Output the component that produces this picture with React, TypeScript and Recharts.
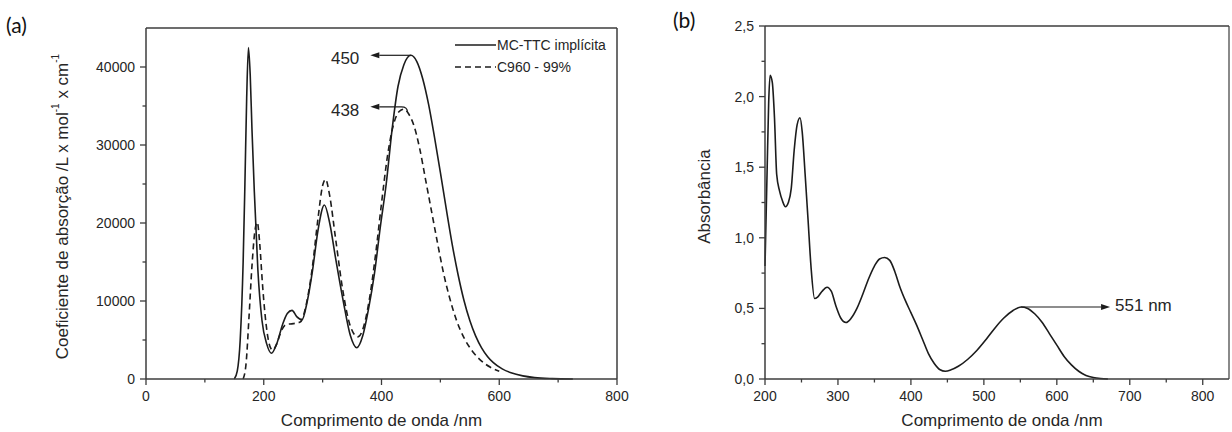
import React from 'react';
import { LineChart, Line, XAxis, YAxis, ReferenceLine, Legend } from 'recharts';

// (a) calculated spectra
const mcNm = [150, 155, 160, 165, 168, 171, 174, 177, 180, 184, 190, 197, 205, 213, 222, 232, 240, 248, 256, 265, 274, 283, 292, 303, 312, 322, 335, 347, 358, 368, 378, 388, 398, 408, 418, 428, 438, 450, 460, 470, 480, 490, 500, 510, 520, 530, 540, 550, 560, 570, 580, 590, 605, 620, 640, 660, 690, 725];
const mcEps = [0, 1000, 5000, 15000, 25000, 36000, 42500, 39000, 32000, 24000, 14000, 7500, 4500, 3300, 4500, 7000, 8400, 8800, 8000, 7600, 10000, 14000, 19000, 22300, 20000, 15500, 10000, 5600, 4000, 5500, 9000, 13500, 19500, 25000, 32000, 37500, 40300, 41500, 40700, 38500, 35200, 31000, 26500, 21800, 17300, 13400, 10100, 7500, 5500, 4000, 2900, 2100, 1300, 800, 400, 180, 50, 0];

const c960Nm = [165, 170, 175, 180, 185, 189, 193, 198, 204, 210, 215, 222, 230, 238, 250, 262, 272, 282, 292, 300, 305, 312, 322, 334, 347, 360, 370, 380, 390, 400, 410, 420, 430, 438, 446, 455, 465, 475, 485, 495, 505, 515, 528, 540, 555, 570, 585, 600];
const c960Eps = [0, 2000, 8000, 14500, 19000, 20100, 17500, 12000, 7000, 4300, 3700, 4500, 6200, 7000, 7100, 7300, 9500, 14000, 20500, 24800, 25600, 23500, 18000, 11500, 6800, 5400, 6800, 10500, 16000, 22500, 28500, 32500, 34300, 34600, 34000, 32500, 29500, 25500, 21500, 17500, 13700, 10600, 7400, 5300, 3500, 2300, 1500, 1000];

// (b) measured spectrum
const absNm = [200, 203, 205, 207, 210, 213, 216, 220, 224, 228, 232, 236, 240, 244, 248, 251, 255, 259, 263, 268, 272, 278, 285, 291, 297, 304, 311, 318, 326, 334, 342, 350, 357, 364, 371, 378, 385, 392, 400, 408, 416, 424, 432, 440, 447, 455, 465, 478, 490, 503, 515, 527, 540, 551, 560, 570, 580, 590, 600, 610, 620, 630, 640, 650, 660, 670];
const absVal = [0.8, 1.5, 1.95, 2.15, 2.1, 1.85, 1.45, 1.33, 1.26, 1.22, 1.25, 1.35, 1.62, 1.8, 1.85, 1.75, 1.45, 1.13, 0.8, 0.57, 0.58, 0.62, 0.65, 0.62, 0.52, 0.43, 0.4, 0.43, 0.5, 0.6, 0.71, 0.8, 0.85, 0.86, 0.84, 0.76, 0.65, 0.56, 0.47, 0.38, 0.28, 0.18, 0.11, 0.065, 0.055, 0.065, 0.09, 0.14, 0.2, 0.28, 0.36, 0.43, 0.485, 0.51, 0.5, 0.46, 0.4, 0.32, 0.24, 0.16, 0.1, 0.055, 0.025, 0.01, 0.003, 0];

const xTicksA = [0, 100, 200, 300, 400, 500, 600, 700, 800];
const yTicksA = [0, 5000, 10000, 15000, 20000, 25000, 30000, 35000, 40000];
const xTicksB = [200, 250, 300, 350, 400, 450, 500, 550, 600, 650, 700, 750, 800];
const yTicksB = [0, 0.25, 0.5, 0.75, 1, 1.25, 1.5, 1.75, 2, 2.25, 2.5];

const peaksA = [
  { text: '450', fromNm: 450, toNm: 381, value: 41500, bend: false },
  { text: '438', fromNm: 444, toNm: 381, value: 34900, bend: true },
];
const peaksB = [{ text: '551 nm', fromNm: 551, toNm: 673, value: 0.51, bend: false }];

const mcData = mcNm.map((nm, i) => ({ nm, v: mcEps[i] }));
const c960Data = c960Nm.map((nm, i) => ({ nm, v: c960Eps[i] }));
const absData = absNm.map((nm, i) => ({ nm, v: absVal[i] }));

const FONT = '"Liberation Sans", Arial, sans-serif';
const AXIS = '#3c3c3c';
const CURVE = '#1c1c1c';
const TEXT = '#262626';

const seriesA = [
  { name: 'MC-TTC implícita', data: mcData, dash: undefined as string | undefined },
  { name: 'C960 - 99%', data: c960Data, dash: '6 4' },
];

const makeXTick = (isMajor: (v: number) => boolean, fmt: (v: number) => string) => (props: any) => {
  const { x, y, payload } = props;
  const major = isMajor(payload.value);
  return (
    <g>
      <line x1={x} x2={x} y1={y} y2={y + (major ? 6 : 3.5)} stroke={AXIS} strokeWidth={1.3} />
      {major && (
        <text x={x} y={y + 22} textAnchor="middle" fontSize={14} fill={TEXT} fontFamily={FONT}>
          {fmt(payload.value)}
        </text>
      )}
    </g>
  );
};

const makeYTick = (isMajor: (v: number) => boolean, fmt: (v: number) => string) => (props: any) => {
  const { x, y, payload } = props;
  const major = isMajor(payload.value);
  return (
    <g>
      <line x1={x} x2={x - (major ? 6 : 3.5)} y1={y} y2={y} stroke={AXIS} strokeWidth={1.3} />
      {major && (
        <text x={x - 11} y={y + 5} textAnchor="end" fontSize={14} fill={TEXT} fontFamily={FONT}>
          {fmt(payload.value)}
        </text>
      )}
    </g>
  );
};

const arrowShape = (text: string, bend: boolean) => (p: any) => {
  const { x1, y1, x2, y2 } = p;
  const dir = x2 < x1 ? -1 : 1;
  const head = 9;
  const d = bend
    ? `M${x1},${y1 + 5} Q${x1},${y1} ${x1 + dir * 6},${y1} L${x2 - dir * head},${y2}`
    : `M${x1},${y1} L${x2 - dir * head},${y2}`;
  return (
    <g>
      <path d={d} fill="none" stroke={CURVE} strokeWidth={1.2} />
      <polygon points={`${x2},${y2} ${x2 - dir * head},${y2 - 3} ${x2 - dir * head},${y2 + 3}`} fill={CURVE} />
      <text
        x={x2 + dir * (dir < 0 ? 11 : 5)}
        y={y2 + (dir < 0 ? 9 : 4)}
        textAnchor={dir < 0 ? 'end' : 'start'}
        fontSize={17}
        fill={TEXT}
        fontFamily={FONT}
      >
        {text}
      </text>
    </g>
  );
};

const LegendA = () => (
  <div style={{ fontFamily: FONT, fontSize: 14, color: TEXT }}>
    {seriesA.map((s) => (
      <div key={s.name} style={{ display: 'flex', alignItems: 'center', height: 22 }}>
        <svg width={42} height={22}>
          <line x1={0} x2={41} y1={11} y2={11} stroke={CURVE} strokeWidth={1.5} strokeDasharray={s.dash} />
        </svg>
        <span style={{ whiteSpace: 'nowrap' }}>{s.name}</span>
      </div>
    ))}
  </div>
);

const xTitle = (dx: number) => (props: any) => {
  const { x, y, width } = props.viewBox;
  return (
    <text x={x + width / 2 + dx} y={y + 47} textAnchor="middle" fontSize={17} fill={TEXT} fontFamily={FONT}>
      Comprimento de onda /nm
    </text>
  );
};

const yTitleA = (props: any) => {
  const { y, height } = props.viewBox;
  const cx = 62;
  const cy = y + height / 2 + 3;
  return (
    <text
      x={cx}
      y={cy}
      transform={`rotate(-90, ${cx}, ${cy})`}
      textAnchor="middle"
      dominantBaseline="central"
      fontSize={17}
      fill={TEXT}
      fontFamily={FONT}
    >
      Coeficiente de absorção /L x mol
      <tspan dy={-7} fontSize={10}>-1</tspan>
      <tspan dy={7}> x cm</tspan>
      <tspan dy={-7} fontSize={10}>-1</tspan>
    </text>
  );
};

const yTitleB = (props: any) => {
  const { y, height } = props.viewBox;
  const cx = 64;
  const cy = y + height / 2 - 6;
  return (
    <text
      x={cx}
      y={cy}
      transform={`rotate(-90, ${cx}, ${cy})`}
      textAnchor="middle"
      dominantBaseline="central"
      fontSize={17}
      fill={TEXT}
      fontFamily={FONT}
    >
      Absorbância
    </text>
  );
};

const panelLabel: React.CSSProperties = {
  position: 'absolute',
  fontFamily: 'Lato, "Open Sans", sans-serif',
  fontSize: 21,
  lineHeight: '26px',
  color: '#111',
};

export default function App() {
  return (
    <div style={{ position: 'absolute', left: 0, top: 0, width: 1232, height: 432, overflow: 'hidden', background: '#fff' }}>
      <div style={{ ...panelLabel, left: 6, top: 12 }}>(a)</div>
      <div style={{ ...panelLabel, left: 673, top: 7 }}>(b)</div>

      <div style={{ position: 'absolute', left: 0, top: 0 }}>
        <LineChart width={640} height={432} margin={{ top: 28, right: 23, bottom: 0, left: 0 }}>
          <XAxis
            type="number"
            dataKey="nm"
            domain={[0, 800]}
            ticks={xTicksA}
            interval={0}
            height={53}
            tickSize={0}
            tickMargin={0}
            tickLine={false}
            axisLine={{ stroke: AXIS, strokeWidth: 1.5 }}
            tick={makeXTick((v) => v % 200 === 0, (v) => String(v))}
            label={xTitle(0)}
          />
          <YAxis
            type="number"
            domain={[0, 45000]}
            ticks={yTicksA}
            interval={0}
            width={146}
            tickSize={0}
            tickMargin={0}
            tickLine={false}
            axisLine={{ stroke: AXIS, strokeWidth: 1.5 }}
            tick={makeYTick((v) => v % 10000 === 0, (v) => String(v))}
            label={yTitleA}
          />
          <ReferenceLine y={45000} stroke={AXIS} strokeWidth={1.5} />
          <ReferenceLine x={800} stroke={AXIS} strokeWidth={1.5} />
          {seriesA.map((s) => (
            <Line
              key={s.name}
              name={s.name}
              data={s.data}
              dataKey="v"
              type="monotone"
              stroke={CURVE}
              strokeWidth={1.6}
              strokeDasharray={s.dash}
              dot={false}
              activeDot={false}
              isAnimationActive={false}
            />
          ))}
          {peaksA.map((pk) => (
            <ReferenceLine
              key={pk.text}
              segment={[{ x: pk.fromNm, y: pk.value }, { x: pk.toNm, y: pk.value }]}
              shape={arrowShape(pk.text, pk.bend)}
            />
          ))}
          <Legend
            layout="vertical"
            align="center"
            verticalAlign="middle"
            content={() => <LegendA />}
            wrapperStyle={{ left: 455, top: 34, width: 170 }}
          />
        </LineChart>
      </div>

      <div style={{ position: 'absolute', left: 640, top: 0 }}>
        <LineChart width={592} height={432} margin={{ top: 26, right: 3, bottom: 0, left: 0 }}>
          <XAxis
            type="number"
            dataKey="nm"
            domain={[200, 836]}
            ticks={xTicksB}
            interval={0}
            height={53}
            tickSize={0}
            tickMargin={0}
            tickLine={false}
            axisLine={{ stroke: AXIS, strokeWidth: 1.5 }}
            tick={makeXTick((v) => v % 100 === 0, (v) => String(v))}
            label={xTitle(5)}
          />
          <YAxis
            type="number"
            domain={[0, 2.5]}
            ticks={yTicksB}
            interval={0}
            width={125}
            tickSize={0}
            tickMargin={0}
            tickLine={false}
            axisLine={{ stroke: AXIS, strokeWidth: 1.5 }}
            tick={makeYTick(
              (v) => Math.abs(v * 2 - Math.round(v * 2)) < 1e-9,
              (v) => v.toFixed(1).replace('.', ',')
            )}
            label={yTitleB}
          />
          <ReferenceLine y={2.5} stroke={AXIS} strokeWidth={1.5} />
          <ReferenceLine x={836} stroke={AXIS} strokeWidth={1.2} />
          <Line
            data={absData}
            dataKey="v"
            type="monotone"
            stroke={CURVE}
            strokeWidth={1.6}
            dot={false}
            activeDot={false}
            isAnimationActive={false}
          />
          {peaksB.map((pk) => (
            <ReferenceLine
              key={pk.text}
              segment={[{ x: pk.fromNm, y: pk.value }, { x: pk.toNm, y: pk.value }]}
              shape={arrowShape(pk.text, pk.bend)}
            />
          ))}
        </LineChart>
      </div>
    </div>
  );
}
